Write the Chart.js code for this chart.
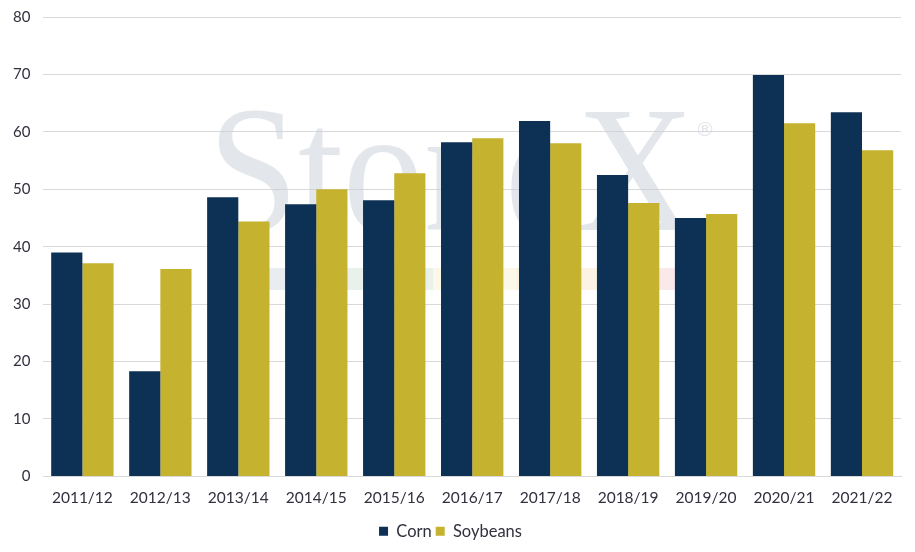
<!DOCTYPE html>
<html>
<head>
<meta charset="utf-8">
<script src="https://cdn.jsdelivr.net/npm/chart.js@4"></script>
<style>
html,body{margin:0;padding:0;background:#fff;}
#wrap{width:915px;height:552px;position:relative;}
</style>
</head>
<body>
<div id="wrap"><canvas id="c" width="915" height="552"></canvas></div>
<script>
const categories = ["2011/12","2012/13","2013/14","2014/15","2015/16","2016/17","2017/18","2018/19","2019/20","2020/21","2021/22"];
const corn = [39.0, 18.3, 48.6, 47.4, 48.1, 58.2, 61.9, 52.5, 45.0, 69.9, 63.4];
const soybeans = [37.1, 36.1, 44.4, 50.0, 52.8, 58.9, 58.0, 47.6, 45.7, 61.5, 56.8];
const yTicks = [0, 10, 20, 30, 40, 50, 60, 70, 80];

const watermark = {
  id: 'watermark',
  beforeDatasetsDraw(chart) {
    const ctx = chart.ctx;
    ctx.save();
    ctx.fillStyle = 'rgba(200,208,218,0.5)';
    ctx.textAlign = 'center';
    ctx.textBaseline = 'alphabetic';
    ctx.save();
    ctx.translate(451, 230);
    ctx.scale(0.9, 1);
    ctx.font = '180px "Liberation Serif", "DejaVu Serif", serif';
    ctx.fillText('StoneX', 0, 0);
    ctx.restore();
    ctx.font = '20px "DejaVu Sans", sans-serif';
    ctx.fillText('®', 705, 136);
    const cols = ['rgba(200,208,218,0.4)','rgba(200,220,205,0.4)','rgba(245,235,200,0.4)','rgba(250,225,190,0.4)','rgba(240,200,200,0.4)'];
    const x0 = 267, w = 83;
    cols.forEach((c, i) => { ctx.fillStyle = c; ctx.fillRect(x0 + i * w, 268, w, 22); });
    ctx.restore();
  }
};

const textColor = '#30303f';

new Chart(document.getElementById('c'), {
  type: 'bar',
  data: {
    labels: categories,
    datasets: [
      { label: 'Corn', data: corn, backgroundColor: '#0c3154', categoryPercentage: 0.8, barPercentage: 1.0 },
      { label: 'Soybeans', data: soybeans, backgroundColor: '#c5b22e', categoryPercentage: 0.8, barPercentage: 1.0 }
    ]
  },
  options: {
    responsive: false,
    animation: false,
    layout: { padding: { left: 0, right: 14, top: 17, bottom: 2.5 } },
    plugins: {
      legend: {
        position: 'bottom',
        labels: {
          boxWidth: 9, boxHeight: 9, padding: 4,
          color: textColor,
          font: { family: 'Lato', size: 16.5 }
        }
      },
      tooltip: { enabled: false }
    },
    scales: {
      x: {
        grid: { display: false, drawTicks: false },
        border: { color: '#d9d9d9', width: 1 },
        ticks: { color: textColor, font: { family: 'Lato', size: 15.5 }, padding: 12, maxRotation: 0 }
      },
      y: {
        min: 0, max: 80,
        afterBuildTicks(scale) { scale.ticks = yTicks.map(v => ({ value: v })); },
        afterFit(scale) { scale.paddingTop = 0; scale.paddingBottom = 0; },
        grid: { color: '#d9d9d9', drawTicks: false },
        border: { display: false },
        ticks: { color: textColor, font: { family: 'Lato', size: 15 }, padding: 13 }
      }
    }
  },
  plugins: [watermark]
});
</script>
</body>
</html>
